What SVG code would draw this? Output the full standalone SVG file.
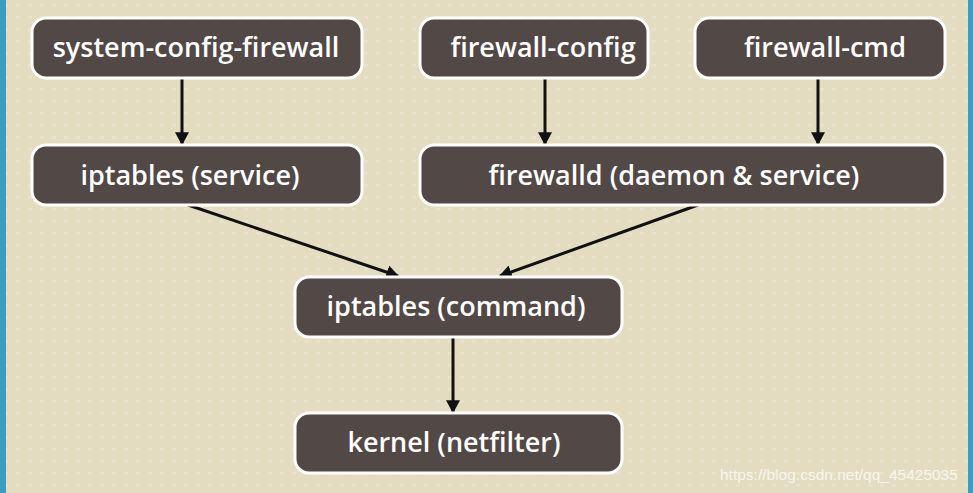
<svg xmlns="http://www.w3.org/2000/svg" width="973" height="493" viewBox="0 0 973 493">
<defs>
<style>
.node rect{fill:#524846;stroke:#ffffff;stroke-width:3}
.node text{fill:#ffffff;font-family:"Open Sans","Noto Sans","DejaVu Sans",sans-serif;font-size:27px;font-weight:600;text-anchor:middle;dominant-baseline:central}
.conn line{stroke:#111111;stroke-width:3;fill:none;marker-end:url(#ah)}
.wm{fill:#ffffff;fill-opacity:0.75;font-family:"Liberation Sans",Arial,sans-serif;font-size:15.5px}
</style>
<marker id="ah" viewBox="0 0 10 10" refX="9" refY="5" markerWidth="13" markerHeight="14" markerUnits="userSpaceOnUse" orient="auto" preserveAspectRatio="none">
<path d="M0,0 L10,5 L0,10 z" fill="#111111"/>
</marker>
<pattern id="dots" width="12" height="12" patternUnits="userSpaceOnUse">
<rect x="4" y="4" width="4" height="3" fill="#ffffff" fill-opacity="0.18"/>
</pattern>
</defs>
<rect x="0" y="0" width="973" height="493" fill="#e3dcc1"/>
<rect x="0" y="0" width="973" height="493" fill="url(#dots)"/>
<rect x="0" y="0" width="6" height="493" fill="#3d9cc2"/>
<rect x="968" y="0" width="5" height="493" fill="#3d9cc2"/>
<g class="conn">
<line x1="182" y1="79" x2="182" y2="144"/>
<line x1="545" y1="79" x2="545" y2="144"/>
<line x1="818" y1="79" x2="818" y2="144"/>
<line x1="188" y1="205" x2="398" y2="276"/>
<line x1="698" y1="205" x2="500" y2="276"/>
<line x1="453" y1="338" x2="453" y2="412"/>
</g>
<g id="n-syscfg" class="node"><rect x="32" y="18" width="330" height="60" rx="14"/><text x="196" y="46">system-config-firewall</text></g>
<g id="n-fwconfig" class="node"><rect x="420" y="18" width="228" height="60" rx="14"/><text x="543" y="46">firewall-config</text></g>
<g id="n-fwcmd" class="node"><rect x="695" y="18" width="250" height="60" rx="14"/><text x="825" y="46">firewall-cmd</text></g>
<g id="n-iptsvc" class="node"><rect x="32" y="145" width="330" height="60" rx="14"/><text x="190" y="174">iptables (service)</text></g>
<g id="n-firewalld" class="node"><rect x="420" y="145" width="525" height="60" rx="14"/><text x="674" y="174">firewalld (daemon &amp; service)</text></g>
<g id="n-iptcmd" class="node"><rect x="295" y="277" width="327" height="60" rx="14"/><text x="456" y="305">iptables (command)</text></g>
<g id="n-kernel" class="node"><rect x="295" y="413" width="327" height="60" rx="14"/><text x="454" y="441">kernel (netfilter)</text></g>
<text class="wm" x="720" y="480">https://blog.csdn.net/qq_45425035</text>
</svg>
